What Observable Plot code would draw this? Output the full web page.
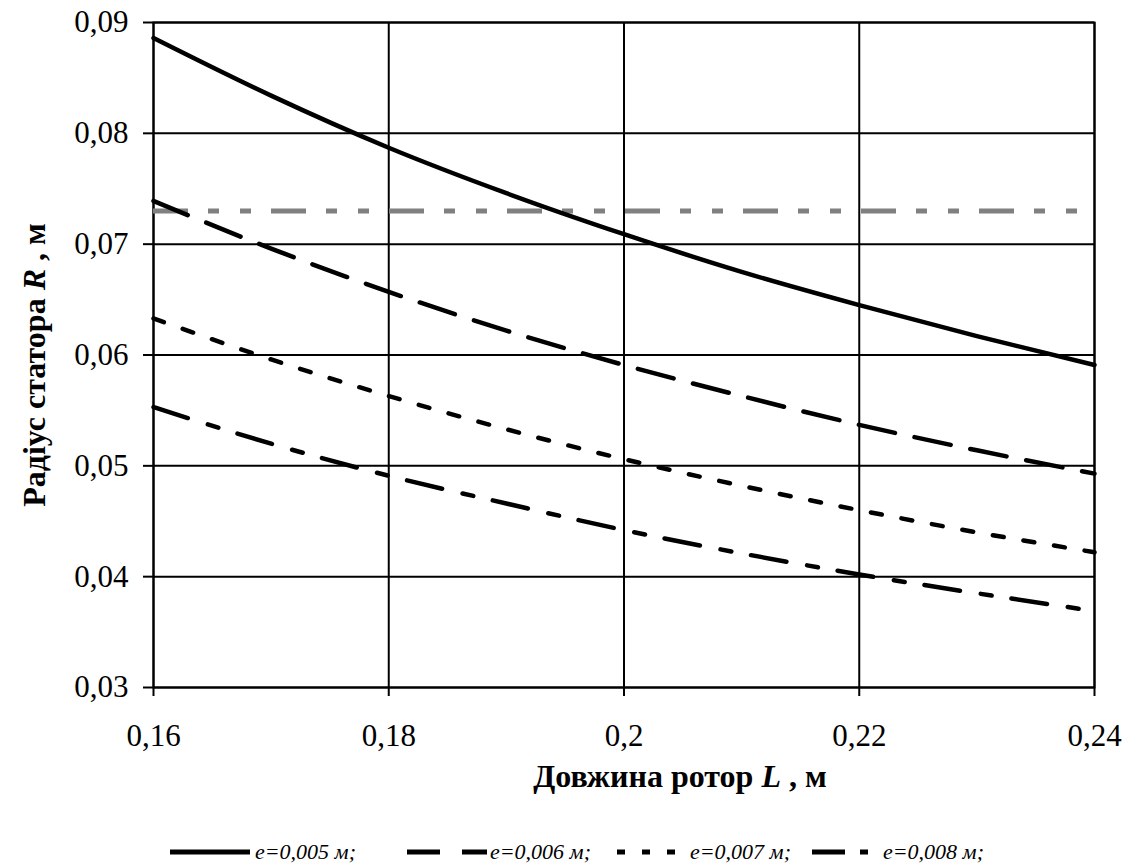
<!DOCTYPE html>
<html>
<head>
<meta charset="utf-8">
<script src="https://cdn.jsdelivr.net/npm/d3@7"></script>
<script src="https://cdn.jsdelivr.net/npm/@observablehq/plot@0.6"></script>
<style>
  html, body { margin: 0; padding: 0; background: #fff; }
  #wrap { width: 1134px; font-family: "Liberation Serif", serif; }
  svg { display: block; }
  svg text { font-family: "Liberation Serif", serif; }
</style>
</head>
<body>
<div id="wrap"></div>
<script>
// ---- data ----
const L = [0.16, 0.17, 0.18, 0.19, 0.20, 0.21, 0.22, 0.23, 0.24];
const R_e005 = [0.0886, 0.0834, 0.0787, 0.0746, 0.0709, 0.0675, 0.0645, 0.0617, 0.0591];
const R_e006 = [0.0739, 0.0696, 0.0657, 0.0622, 0.0591, 0.0563, 0.0537, 0.0514, 0.0493];
const R_e007 = [0.0633, 0.0596, 0.0563, 0.0533, 0.0506, 0.0482, 0.0460, 0.0440, 0.0422];
const R_e008 = [0.0553, 0.0520, 0.0491, 0.0466, 0.0442, 0.0421, 0.0402, 0.0385, 0.0369];
const R_limit = [0.073];
const seriesNames = ["e=0,005 м;", "e=0,006 м;", "e=0,007 м;", "e=0,008 м;"];
const xTicks = [0.16, 0.18, 0.20, 0.22, 0.24];
const yTicks = [0.03, 0.04, 0.05, 0.06, 0.07, 0.08, 0.09];
const xTitle = ["Довжина ротор ", "L", " , м"];
const yTitle = ["Радіус статора ", "R", " , м"];

const seriesValues = [R_e005, R_e006, R_e007, R_e008];
const dashes = [null, "37,20", "11,20", "36,21,11,20"];
const table = seriesValues.map(vals => L.map((l, i) => ({L: l, R: vals[i]})));

const fmt = d => String(+d.toFixed(2)).replace(".", ",");
const fmtY = d => d.toFixed(2).replace(".", ",");
const FONT = '"Liberation Serif", serif';

const chart = Plot.plot({
  width: 1134,
  height: 800,
  marginTop: 22,
  marginRight: 40,
  marginBottom: 113,
  marginLeft: 153,
  style: {fontFamily: FONT, fontSize: "31px", color: "black", background: "white"},
  x: {domain: [0.16, 0.24]},
  y: {domain: [0.03, 0.09]},
  marks: [
    Plot.gridX(xTicks, {stroke: "black", strokeOpacity: 1, strokeWidth: 2}),
    Plot.gridY(yTicks, {stroke: "black", strokeOpacity: 1, strokeWidth: 2}),
    Plot.frame({stroke: "black", strokeWidth: 2}),
    Plot.axisX(xTicks, {tickSize: 9, tickPadding: 27, tickFormat: fmt, label: null, fontSize: 31, fontFamily: FONT, strokeWidth: 2}),
    Plot.axisY(yTicks, {tickSize: 10, tickPadding: 15, tickFormat: fmtY, label: null, fontSize: 31, fontFamily: FONT, strokeWidth: 2}),
    Plot.ruleY(R_limit, {stroke: "#808080", strokeWidth: 5, strokeDasharray: "35,20,11,21,11,20"}),
    ...table.map((rows, k) => Plot.line(rows, {
      x: "L", y: "R", stroke: "black", strokeWidth: 4.5,
      strokeDasharray: dashes[k] || undefined, curve: "monotone-x"
    }))
  ]
});

const svg = d3.select(chart);
// x-axis title
const xt = svg.append("text")
  .attr("x", 680).attr("y", 787)
  .attr("text-anchor", "middle")
  .style("font-family", FONT).style("font-size", "32px").style("font-weight", "bold")
  .attr("fill", "black");
xt.append("tspan").text(xTitle[0]);
xt.append("tspan").style("font-style", "italic").text(xTitle[1]);
xt.append("tspan").text(xTitle[2]);
// y-axis title
const yt = svg.append("text")
  .attr("transform", "translate(45,365) rotate(-90)")
  .attr("text-anchor", "middle")
  .style("font-family", FONT).style("font-size", "32px").style("font-weight", "bold")
  .attr("fill", "black");
yt.append("tspan").text(yTitle[0]);
yt.append("tspan").style("font-style", "italic").text(yTitle[1]);
yt.append("tspan").text(yTitle[2]);

document.getElementById("wrap").appendChild(chart);

// legend below the chart
const legendItems = [
  {x1: 170, x2: 250, dash: null, tx: 255},
  {x1: 407, x2: 487, dash: "33,22", tx: 490},
  {x1: 617, x2: 675, dash: "8,17", tx: 690},
  {x1: 812, x2: 868, dash: "33,15,8,100", tx: 883}
];
const leg = d3.select("#wrap").append("svg")
  .attr("width", 1134).attr("height", 65);
legendItems.forEach((it, k) => {
  leg.append("line")
    .attr("x1", it.x1).attr("x2", it.x2).attr("y1", 52).attr("y2", 52)
    .attr("stroke", "black").attr("stroke-width", 5)
    .attr("stroke-dasharray", it.dash);
  leg.append("text")
    .attr("x", it.tx).attr("y", 59)
    .style("font-family", FONT).style("font-size", "22px").style("font-style", "italic")
    .attr("fill", "black")
    .text(seriesNames[k]);
});
</script>
</body>
</html>
